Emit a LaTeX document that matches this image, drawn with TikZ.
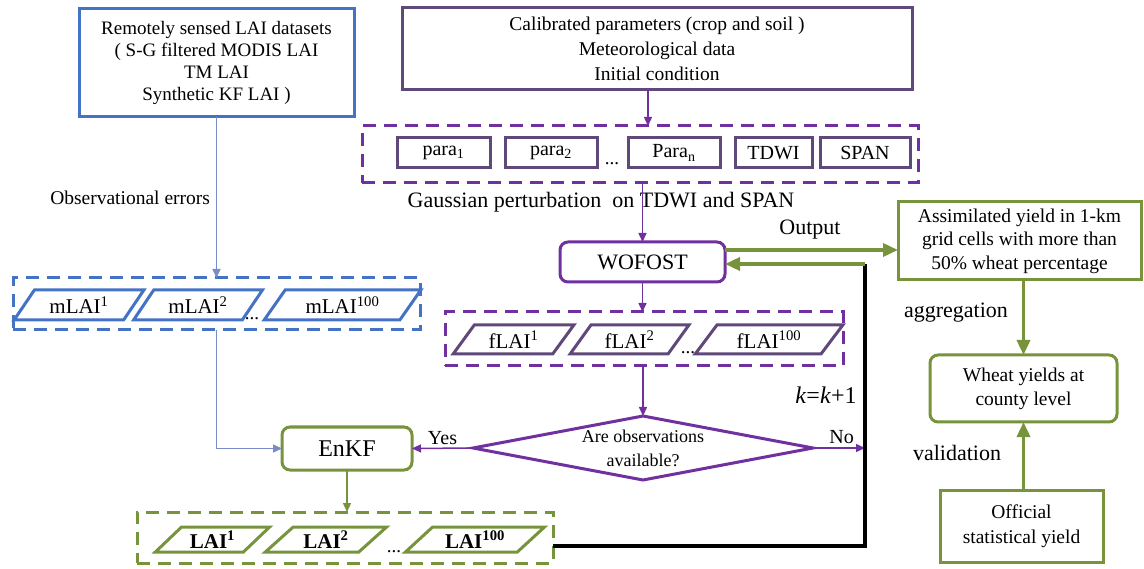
\documentclass[tikz,border=0pt]{standalone}
\usepackage{fontspec}
\setmainfont{Liberation Serif}
\usetikzlibrary{arrows.meta,shapes.geometric}
\definecolor{cblue}{HTML}{4472C4}
\definecolor{cbline}{HTML}{7A8CC8}
\definecolor{cpurp}{HTML}{7030A0}
\definecolor{cdpurp}{HTML}{5F497A}
\definecolor{cgreen}{HTML}{77933C}
\begin{document}
\begin{tikzpicture}[x=1pt,y=-1pt,
  every node/.style={inner sep=0pt, outer sep=0pt},
  box/.style={draw, line width=3pt, align=center, minimum width=#1},
  rbox/.style={box=#1, rounded corners=8pt},
  dbox/.style={draw, line width=3pt, dash pattern=on 13pt off 8pt},
  pg/.style={draw, line width=3pt, trapezium, trapezium left angle=#1, trapezium right angle=180-#1, trapezium stretches=true},
  thin/.style={line width=1.5pt, -{Triangle[length=9pt,width=8pt]}},
  thick/.style={line width=3.5pt, -{Triangle[length=15pt,width=13pt]}},
  lab/.style={font=\fontsize{22}{26}\selectfont},
  txt/.style={font=\fontsize{19}{23}\selectfont}
]
\useasboundingbox (0,0) rectangle (1144,569);

% ---- blue branch
\node[box=275pt, draw=cblue, minimum height=108pt, font=\fontsize{19}{22}\selectfont] (rs) at (216.5,63)
  {Remotely sensed LAI datasets\\( S-G filtered MODIS LAI\\TM LAI\\Synthetic KF LAI )};
\node[dbox, draw=cblue, minimum width=407pt, minimum height=52pt] (mbox) at (216.5,304) {};
\node[pg=52, draw=cblue, minimum width=130pt, minimum height=30pt, font=\fontsize{21}{24}\selectfont] (m1) at (79,305) {mLAI\textsuperscript{1}};
\node[pg=52, draw=cblue, minimum width=129pt, minimum height=30pt, font=\fontsize{21}{24}\selectfont] (m2) at (198,305) {mLAI\textsuperscript{2}};
\node[pg=52, draw=cblue, minimum width=157pt, minimum height=30pt, font=\fontsize{21}{24}\selectfont] (m3) at (342.5,305) {mLAI\textsuperscript{100}};
\node[anchor=base, txt] (md) at (252,320) {...};
\node[anchor=east, font=\fontsize{19.5}{23}\selectfont] (obs) at (210,198) {Observational errors};
\draw[thin, cbline] (rs.south) -- (mbox.north);

% ---- purple branch
\node[box=510pt, draw=cdpurp, minimum height=82pt, font=\fontsize{19.5}{25}\selectfont] (cal) at (657,49)
  {Calibrated parameters (crop and soil )\\Meteorological data\\Initial condition};
\node[dbox, draw=cpurp, minimum width=556pt, minimum height=57pt] (pbox) at (640,154.5) {};
\node[box=93pt, draw=cdpurp, minimum height=30pt, font=\fontsize{20}{24}\selectfont] (p1) at (443.5,153) {para\textsubscript{1}};
\node[box=92pt, draw=cdpurp, minimum height=30pt, font=\fontsize{20}{24}\selectfont] (p2) at (551,153) {para\textsubscript{2}};
\node[anchor=base, txt] (pd) at (612,165) {...};
\node[box=92pt, draw=cdpurp, minimum height=30pt, font=\fontsize{20}{24}\selectfont] (pn) at (674,153) {Para\textsubscript{n}};
\node[box=77pt, draw=cdpurp, minimum height=30pt, font=\fontsize{20}{24}\selectfont] (tdwi) at (773.5,153) {TDWI};
\node[box=90pt, draw=cdpurp, minimum height=30pt, font=\fontsize{20}{24}\selectfont] (span) at (865,153) {SPAN};
\draw[thin, cpurp] ([xshift=-9pt]cal.south) -- ([xshift=-9pt]cal.south |- pbox.north);
\node[lab] (gau) at (601,202) {Gaussian perturbation\ \ on TDWI and SPAN};

\node[rbox=165pt, draw=cpurp, minimum height=40pt, font=\fontsize{22}{26}\selectfont] (wof) at (642.5,262) {WOFOST};
\draw[thin, cpurp] (wof.north |- pbox.south) -- (wof.north);

\node[dbox, draw=cpurp, minimum width=398pt, minimum height=54pt] (fbox) at (644,339) {};
\node[pg=52, draw=cdpurp, minimum width=121pt, minimum height=29pt, font=\fontsize{21}{24}\selectfont] (f1) at (513.5,339.5) {fLAI\textsuperscript{1}};
\node[pg=52, draw=cdpurp, minimum width=119pt, minimum height=29pt, font=\fontsize{21}{24}\selectfont] (f2) at (629.5,339.5) {fLAI\textsuperscript{2}};
\node[pg=52, draw=cdpurp, minimum width=148pt, minimum height=29pt, font=\fontsize{21}{24}\selectfont] (f3) at (769,339.5) {fLAI\textsuperscript{100}};
\node[anchor=base, txt] (fd) at (688,354) {...};
\draw[thin, cpurp] (wof.south) -- (wof.south |- fbox.north);

\node[diamond, draw=cpurp, line width=3pt, minimum width=340pt, minimum height=64pt, aspect=5.3, align=center, font=\fontsize{18}{24}\selectfont] (dec) at (643,448) {Are observations\\available?};
\draw[thin, cpurp] (dec.north |- fbox.south) -- (dec.north);

\node[rbox=130pt, draw=cgreen, minimum height=43pt, font=\fontsize{24}{28}\selectfont] (enkf) at (347,448.5) {EnKF};
\draw[thin, cpurp] (dec.west) -- (enkf.east) node[midway, above=4pt, text=black, font=\fontsize{20}{24}\selectfont] (yes) {Yes};
\draw[thin, cbline] (mbox.south) |- (enkf.west);

\node[dbox, draw=cgreen, minimum width=416pt, minimum height=51pt] (lbox) at (345,537.5) {};
\node[pg=42, draw=cgreen, minimum width=115pt, minimum height=25pt, font=\bfseries\fontsize{21}{24}\selectfont] (l1) at (212.5,539.5) {LAI\textsuperscript{1}};
\node[pg=42, draw=cgreen, minimum width=122pt, minimum height=25pt, font=\bfseries\fontsize{21}{24}\selectfont] (l2) at (326,539.5) {LAI\textsuperscript{2}};
\node[pg=42, draw=cgreen, minimum width=140pt, minimum height=25pt, font=\bfseries\fontsize{21}{24}\selectfont] (l3) at (475,539.5) {LAI\textsuperscript{100}};
\node[anchor=base, txt] (ld) at (394,552) {...};
\draw[thin, cgreen] (enkf.south) -- (enkf.south |- lbox.north);

% ---- loop
\coordinate (ltop) at (865,264);
\coordinate (lbot) at (865,546);
\coordinate (yout) at (0,250);
\draw[thin, cpurp] (dec.east) -- (dec.east -| ltop) node[pos=0.55, above=4pt, text=black, font=\fontsize{20}{24}\selectfont] (no) {No};
\draw[line width=3.5pt, black] (lbot -| lbox.east) -- (lbot) -- (ltop);
\draw[thick, cgreen] (ltop) -- (ltop -| wof.east);
\node[font=\fontsize{24}{28}\selectfont] (kk) at (826,395) {\textit{k}=\textit{k}+1};

% ---- right branch
\node[box=243pt, draw=cgreen, minimum height=78pt, font=\fontsize{19.5}{23.5}\selectfont] (asm) at (1019.5,241)
  {Assimilated yield in 1-km\\grid cells with more than\\50\% wheat percentage};
\draw[thick, cgreen] (wof.east |- yout) -- (asm.west |- yout);
\node[lab] (out) at (810,230) {Output};
\node[rbox=187pt, draw=cgreen, minimum height=67pt, font=\fontsize{19.5}{24}\selectfont] (wy) at (1023.5,388.5)
  {Wheat yields at\\county level};
\node[box=163pt, draw=cgreen, minimum height=72pt, font=\fontsize{19.5}{25}\selectfont] (off) at (1021.5,526)
  {Official\\statistical yield};
\draw[thick, cgreen] (asm.south -| wy.north) -- (wy.north);
\draw[thick, cgreen] (off.north -| wy.south) -- (wy.south);
\node[lab] (agg) at (956,313) {aggregation};
\node[lab] (val) at (957,453) {validation};
\end{tikzpicture}
\end{document}
